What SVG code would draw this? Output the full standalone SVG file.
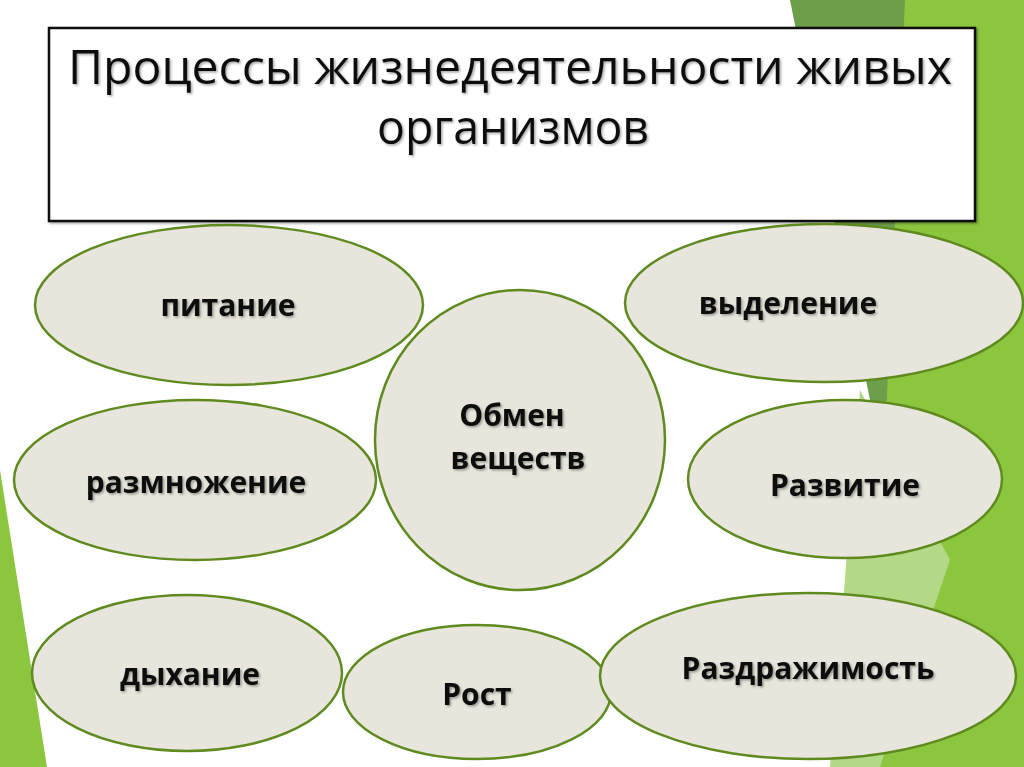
<svg xmlns="http://www.w3.org/2000/svg" width="1024" height="767" viewBox="0 0 1024 767">
<style>
.n{fill:#e8e6dc;stroke:#5f8a1f;stroke-width:2.5}
.t{font-family:"Open Sans","DejaVu Sans",sans-serif;font-weight:bold;font-size:30px;fill:#111;text-anchor:middle}
.h{font-family:"Open Sans","DejaVu Sans",sans-serif;font-size:47px;fill:#111;text-anchor:middle}
</style>
<defs><filter id="s" x="-5%" y="-5%" width="110%" height="120%"><feDropShadow dx="1.5" dy="1.5" stdDeviation="1" flood-color="#000" flood-opacity="0.35"/></filter></defs>
<rect width="1024" height="767" fill="#fff"/>
<g id="bg">
<polygon points="790,0 905,0 960,580 870,400" fill="#6d9e4a"/>
<polygon points="905,0 1024,0 1024,767 870,767" fill="#8cc63e"/>
<polygon points="860,390 950,560 880,767 830,767" fill="#b3d886"/>
<polygon points="0,470 0,767 47,767" fill="#8cc63e"/>
</g>
<g id="title">
<rect x="49" y="28" width="926" height="193" fill="#fff" stroke="#111" stroke-width="2.5" filter="url(#s)"/>
<text class="h" x="510" y="84" filter="url(#s)" textLength="884" lengthAdjust="spacingAndGlyphs">Процессы жизнедеятельности живых</text>
<text class="h" x="513" y="144" filter="url(#s)" textLength="272" lengthAdjust="spacingAndGlyphs">организмов</text>
</g>
<g id="connectors"></g>
<g id="pitanie"><ellipse class="n" cx="229" cy="305" rx="194" ry="80"/><text class="t" x="228" y="316" filter="url(#s)">питание</text></g>
<g id="vydelenie"><ellipse class="n" cx="824" cy="303" rx="199" ry="79"/><text class="t" x="788" y="314" filter="url(#s)">выделение</text></g>
<g id="obmen"><ellipse class="n" cx="520" cy="440" rx="145" ry="150"/><text class="t" x="512" y="426" filter="url(#s)">Обмен</text><text class="t" x="518" y="469" filter="url(#s)">веществ</text></g>
<g id="razmnozhenie"><ellipse class="n" cx="195" cy="480" rx="181" ry="80"/><text class="t" x="196" y="493" filter="url(#s)">размножение</text></g>
<g id="razvitie"><ellipse class="n" cx="845" cy="479" rx="157" ry="79"/><text class="t" x="845" y="496" filter="url(#s)">Развитие</text></g>
<g id="dyhanie"><ellipse class="n" cx="187" cy="673" rx="155" ry="78"/><text class="t" x="190" y="685" filter="url(#s)">дыхание</text></g>
<g id="rost"><ellipse class="n" cx="477" cy="692" rx="134" ry="67"/><text class="t" x="477" y="705" filter="url(#s)">Рост</text></g>
<g id="razdrazh"><ellipse class="n" cx="808" cy="676" rx="208" ry="83"/><text class="t" x="808" y="679" filter="url(#s)">Раздражимость</text></g>
</svg>
